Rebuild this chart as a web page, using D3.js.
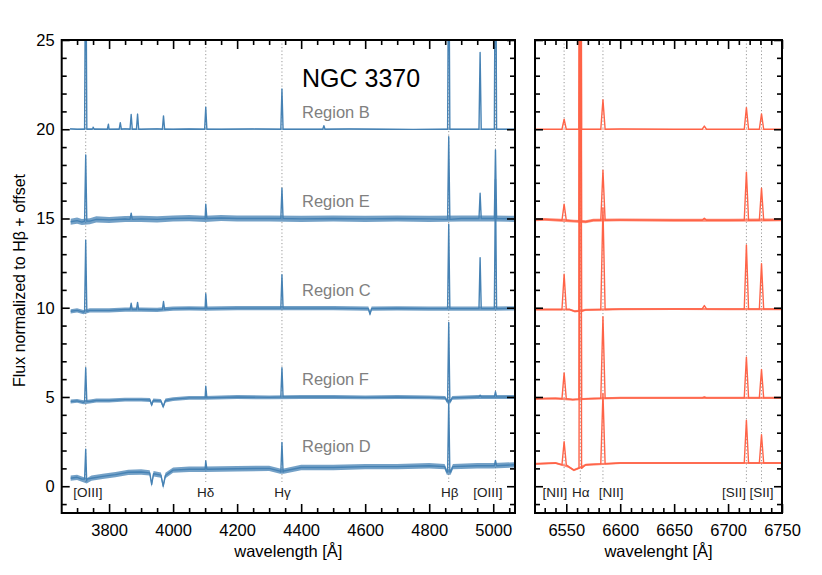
<!DOCTYPE html>
<html><head><meta charset="utf-8">
<script src="https://cdn.jsdelivr.net/npm/d3@7/dist/d3.min.js"></script>
<style>body{margin:0;background:#fff}svg{display:block}</style>
</head><body><svg id="c" width="822" height="575"></svg>
<script>
// ---------------- DATA ----------------
const regionNames = ["Region B", "Region E", "Region C", "Region F", "Region D"];
const offsets = [20, 15, 10, 5, 0];
const title = "NGC 3370";

const leftRange = [3652, 5068];
const rightRange = [6521, 6750];
const yRange = [-1.5, 25];

const yMajor = [0, 5, 10, 15, 20, 25];
const leftXMajor = [3800, 4000, 4200, 4400, 4600, 4800, 5000];
const rightXMajor = [6550, 6600, 6650, 6700, 6750];

// emission line rest wavelengths marked with dotted lines
const leftMarkers = [3727, 4102, 4340, 4861, 5007];
const rightMarkers = [6548, 6563, 6584, 6717, 6731];
// line labels: text and wavelength where the label is centred
const leftLabelText = ["[OIII]", "H\u03b4", "H\u03b3", "H\u03b2", "[OIII]"];
const leftLabelAt = [3734, 4102, 4342, 4864, 4983];
const rightLabelText = ["[NII]", "H\u03b1", "[NII]", "[SII]", "[SII]"];
const rightLabelAt = [6539.5, 6563.5, 6591.5, 6705.5, 6731];

// continuum knots [wavelength, flux]
const leftContB = [[3678,20.02],[3700,20.0],[3750,20.03],[3800,20.0],[3850,20.02],[3900,20.0],[3950,20.02],[4000,20.0],[4050,20.01],[4150,20.0],[4250,20.01],[4350,20.0],[4450,20.0],[4550,20.01],[4650,20.0],[4750,19.99],[4850,20.0],[4950,20.0],[5068,20.0]];
const leftContE = [[3680,14.82],[3700,14.88],[3715,14.8],[3740,14.85],[3760,14.95],[3800,14.92],[3850,14.97],[3900,14.98],[3950,14.95],[4000,15.0],[4050,15.02],[4100,14.98],[4150,15.03],[4200,15.0],[4300,15.0],[4400,14.98],[4500,15.0],[4600,14.98],[4700,15.0],[4800,14.98],[4900,15.0],[5000,15.0],[5068,14.98]];
const leftContC = [[3680,9.8],[3700,9.85],[3720,9.75],[3740,9.85],[3800,9.85],[3850,9.9],[3900,9.9],[3950,9.88],[4000,9.95],[4050,9.97],[4100,9.95],[4200,9.98],[4300,9.98],[4400,9.98],[4500,9.98],[4610,9.95],[4615,9.65],[4620,9.95],[4700,9.97],[4800,9.95],[4900,9.95],[5000,9.95],[5068,9.97]];
const leftContF = [[3680,4.75],[3700,4.78],[3720,4.7],[3740,4.75],[3760,4.8],[3800,4.8],[3850,4.85],[3900,4.85],[3928,4.83],[3933,4.55],[3938,4.8],[3962,4.78],[3969,4.45],[3976,4.8],[4000,4.88],[4050,4.95],[4100,4.95],[4200,5.0],[4300,4.98],[4400,5.0],[4500,5.0],[4600,4.98],[4700,5.0],[4800,4.98],[4850,4.95],[4856,4.75],[4866,4.75],[4872,4.95],[4950,5.0],[5068,5.0]];
const leftContD = [[3680,0.45],[3700,0.5],[3715,0.4],[3730,0.3],[3745,0.45],[3780,0.55],[3820,0.65],[3860,0.78],[3900,0.8],[3927,0.75],[3933,0.1],[3939,0.7],[3962,0.62],[3969,0.0],[3976,0.6],[4000,0.9],[4050,0.95],[4100,0.95],[4200,0.98],[4300,1.0],[4334,0.85],[4346,0.85],[4400,1.05],[4500,1.05],[4600,1.1],[4700,1.1],[4800,1.15],[4848,1.1],[4855,0.8],[4867,0.8],[4874,1.1],[4950,1.15],[5000,1.15],[5068,1.2]];

const rightContB = [[6521,20.0],[6540,20.0],[6600,20.01],[6650,20.0],[6700,20.0],[6750,20.0]];
const rightContE = [[6521,14.92],[6530,14.95],[6545,14.9],[6557,14.85],[6568,14.82],[6575,14.9],[6600,14.92],[6650,14.9],[6700,14.9],[6750,14.92]];
const rightContC = [[6521,9.9],[6553,9.9],[6558,9.8],[6568,9.88],[6600,9.92],[6650,9.93],[6700,9.92],[6750,9.92]];
const rightContF = [[6521,4.9],[6540,4.92],[6556,4.85],[6570,4.9],[6600,4.95],[6700,4.95],[6750,4.95]];
const rightContD = [[6521,1.25],[6540,1.3],[6552,1.1],[6557,0.9],[6561,1.0],[6568,1.2],[6600,1.3],[6650,1.3],[6700,1.3],[6750,1.3]];

// emission lines [wavelength, base, peak]
const leftLinesB = [[3727,20.0,32],[3750,20.0,20.12],[3798,20.0,20.28],[3835,20.0,20.37],[3869,20.0,20.83],[3889,20.0,20.85],[3970,20.0,20.75],[4102,20.0,21.23],[4340,20.0,22.26],[4471,20.0,20.2],[4861,20.0,32],[4959,20.0,24.3],[5007,20.0,34]];
const leftLinesE = [[3727,14.85,18.56],[3869,14.95,15.3],[4102,15.0,15.8],[4340,15.0,16.7],[4861,14.95,19.58],[4959,15.0,16.41],[5007,15.0,18.84]];
const leftLinesC = [[3727,9.8,13.78],[3869,9.9,10.25],[3889,9.9,10.3],[3970,9.9,10.35],[4102,9.95,10.79],[4340,9.98,11.85],[4861,9.95,14.68],[4959,9.95,12.81],[5007,9.95,17.2]];
const leftLinesF = [[3727,4.75,6.64],[4102,4.95,5.6],[4340,5.0,6.64],[4861,4.8,9.17],[4959,5.0,5.1],[5007,5.0,5.3]];
const leftLinesD = [[3727,0.4,2.07],[4102,0.95,1.42],[4340,0.8,2.45],[4861,0.8,4.8],[5007,1.15,1.45]];

const rightLinesB = [[6548,20,20.56],[6563,20,60],[6584,20,21.65],[6678,20,20.18],[6717,20,21.21],[6731,20,20.86]];
const rightLinesE = [[6548,14.9,15.8],[6563,14.85,55],[6584,14.9,17.7],[6678,14.9,15.02],[6717,14.9,17.6],[6731,14.9,16.7]];
const rightLinesC = [[6548,9.9,11.88],[6563,9.8,50],[6584,9.9,15.6],[6678,9.93,10.12],[6717,9.92,13.52],[6731,9.92,12.47]];
const rightLinesF = [[6548,4.9,6.35],[6563,4.88,45],[6584,4.93,9.5],[6678,4.95,5.0],[6717,4.95,7.23],[6731,4.95,6.54]];
const rightLinesD = [[6548,1.2,2.5],[6563,1.0,41],[6584,1.25,5.2],[6717,1.3,3.7],[6731,1.3,2.88]];

// noise amplitude (half width of the noisy band) per region
const leftNoise = [0.03, 0.17, 0.12, 0.11, 0.15];
const rightNoise = [0.02, 0.08, 0.06, 0.06, 0.06];

// ---------------- DRAWING ----------------
const leftCont = [leftContB, leftContE, leftContC, leftContF, leftContD];
const leftLines = [leftLinesB, leftLinesE, leftLinesC, leftLinesF, leftLinesD];
const rightCont = [rightContB, rightContE, rightContC, rightContF, rightContD];
const rightLines = [rightLinesB, rightLinesE, rightLinesC, rightLinesF, rightLinesD];

const FONT = "'Liberation Sans', Arial, Helvetica, sans-serif";
const blue = "#4682b4", red = "#ff6347";
const yTop = 40, yBottom = 513;
const svg = d3.select("#c").style("font-family", FONT);
svg.append("rect").attr("width", 822).attr("height", 575).attr("fill", "#fff");

const y = d3.scaleLinear().domain(yRange).range([yBottom, yTop]);
const xL = d3.scaleLinear().domain(leftRange).range([61.7, 515]);
const xR = d3.scaleLinear().domain(rightRange).range([535, 782]);

function buildSeries(cont, lines, hw) {
  const pts = cont.slice();
  lines.forEach(l => {
    const w = (l[2] - l[1] > 20) ? hw * 0.6 : hw;
    pts.push([l[0] - w, l[1]], [l[0], l[2]], [l[0] + w, l[1]]);
  });
  pts.sort((a, b) => a[0] - b[0]);
  return pts;
}

function panel(id, x, cont, lines, noise, color, hw, markers, labText, labAt, xMajor, xMinorStep, showYLabels, xTitle) {
  const [x0, x1] = x.range();
  const g = svg.append("g");
  const cid = "clip" + id;
  svg.append("defs").append("clipPath").attr("id", cid)
    .append("rect").attr("x", x0).attr("y", yTop).attr("width", x1 - x0).attr("height", yBottom - yTop);

  // dotted marker lines
  g.selectAll("line.mk").data(markers).join("line")
    .attr("x1", d => x(d)).attr("x2", d => x(d))
    .attr("y1", yTop).attr("y2", 482)
    .attr("stroke", "#999").attr("stroke-width", 1).attr("stroke-dasharray", "1.2,2.3");

  const pg = g.append("g").attr("clip-path", `url(#${cid})`);
  cont.forEach((c, i) => {
    const area = d3.area().x(d => x(d[0])).y0(d => y(d[1] - noise[i])).y1(d => y(d[1] + noise[i]));
    pg.append("path").attr("d", area(c)).attr("fill", color).attr("opacity", 0.75);
    const line = d3.line().x(d => x(d[0])).y(d => y(d[1]));
    pg.append("path").attr("d", line(buildSeries(c, lines[i], hw)))
      .attr("fill", "none").attr("stroke", color).attr("stroke-width", 1.4).attr("stroke-linejoin", "round");
  });

  // line labels
  g.selectAll("text.lab").data(labText).join("text")
    .attr("x", (d, i) => x(labAt[i])).attr("y", 497)
    .attr("text-anchor", "middle").attr("font-size", 13.5).attr("fill", "#222").text(d => d);

  // axes
  const yMinor = d3.range(Math.ceil(yRange[0]), yRange[1], 1).filter(v => v % 5 !== 0);
  const xMinor = d3.range(Math.ceil(x.domain()[0] / xMinorStep) * xMinorStep, x.domain()[1], xMinorStep)
    .filter(v => !xMajor.includes(v));
  const style = sel => { sel.select(".domain").remove(); sel.selectAll(".tick line").attr("stroke", "#000").attr("stroke-width", 1.6); sel.selectAll("text").attr("font-size", 16.5).attr("fill", "#000").attr("font-family", FONT); };

  svg.append("g").attr("transform", `translate(0,${yBottom})`)
    .call(d3.axisBottom(x).tickValues(xMajor).tickSize(-9).tickPadding(11).tickFormat(d3.format("d"))).call(style);
  svg.append("g").attr("transform", `translate(0,${yBottom})`)
    .call(d3.axisBottom(x).tickValues(xMinor).tickSize(-5).tickFormat("")).call(style);
  svg.append("g").attr("transform", `translate(0,${yTop})`)
    .call(d3.axisTop(x).tickValues(xMajor).tickSize(-9).tickFormat("")).call(style);
  svg.append("g").attr("transform", `translate(0,${yTop})`)
    .call(d3.axisTop(x).tickValues(xMinor).tickSize(-5).tickFormat("")).call(style);
  svg.append("g").attr("transform", `translate(${x0},0)`)
    .call(d3.axisLeft(y).tickValues(yMajor).tickSize(-8).tickPadding(7).tickFormat(showYLabels ? d3.format("d") : "")).call(style);
  svg.append("g").attr("transform", `translate(${x0},0)`)
    .call(d3.axisLeft(y).tickValues(yMinor).tickSize(-5).tickFormat("")).call(style);
  svg.append("g").attr("transform", `translate(${x1},0)`)
    .call(d3.axisRight(y).tickValues(yMajor).tickSize(-8).tickFormat("")).call(style);
  svg.append("g").attr("transform", `translate(${x1},0)`)
    .call(d3.axisRight(y).tickValues(yMinor).tickSize(-5).tickFormat("")).call(style);

  svg.append("rect").attr("x", x0).attr("y", yTop).attr("width", x1 - x0).attr("height", yBottom - yTop)
    .attr("fill", "none").attr("stroke", "#000").attr("stroke-width", 2);

  svg.append("text").attr("x", (x0 + x1) / 2).attr("y", 557).attr("text-anchor", "middle")
    .attr("font-size", 16.5).attr("fill", "#000").text(xTitle);
}

panel("L", xL, leftCont, leftLines, leftNoise, blue, 3.5, leftMarkers, leftLabelText, leftLabelAt, leftXMajor, 50, true, "wavelength [\u00c5]");
panel("R", xR, rightCont, rightLines, rightNoise, red, 2, rightMarkers, rightLabelText, rightLabelAt, rightXMajor, 10, false, "wavelenght [\u00c5]");

// region labels and title
regionNames.forEach((name, i) => {
  const lift = name === "Region D" ? 1.93 : 0.65;
  svg.append("text").attr("x", 302).attr("y", y(offsets[i] + lift))
    .attr("font-size", 16.5).attr("fill", "#808080").text(name);
});
svg.append("text").attr("x", 302).attr("y", 86.5).attr("font-size", 25).attr("fill", "#000").text(title);

svg.append("text").attr("transform", `translate(25,280.5) rotate(-90)`).attr("text-anchor", "middle")
  .attr("font-size", 16).attr("fill", "#000").text("Flux normalized to H\u03b2 + offset");
</script></body></html>
